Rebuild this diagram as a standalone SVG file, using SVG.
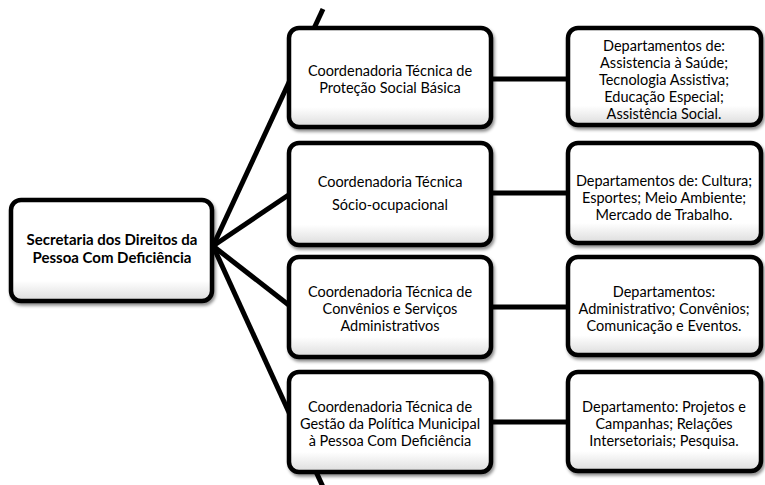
<svg xmlns="http://www.w3.org/2000/svg" width="765" height="485" viewBox="0 0 765 485">
<defs>
<linearGradient id="g" x1="0" y1="0" x2="0" y2="1">
<stop offset="0" stop-color="#ffffff"/>
<stop offset="0.8" stop-color="#ffffff"/>
<stop offset="1" stop-color="#dcdcdc"/>
</linearGradient>
<filter id="sh" x="-10%" y="-10%" width="125%" height="130%">
<feDropShadow dx="1.5" dy="2.5" stdDeviation="1.5" flood-color="#000" flood-opacity="0.45"/>
</filter>
</defs>
<style>
.box{fill:url(#g);stroke:#000;stroke-width:4.5;filter:url(#sh)}
.t{font-family:Lato,"Noto Sans",sans-serif;font-size:14.5px;fill:#000;text-anchor:middle}
.b{font-weight:bold;font-size:15px}
.c{stroke:#000;stroke-width:5;fill:none}
</style>
<g id="connectors">
<line class="c" x1="213" y1="246" x2="323" y2="9"/>
<line class="c" x1="213" y1="246" x2="290" y2="194"/>
<line class="c" x1="213" y1="246" x2="290" y2="306"/>
<line class="c" x1="213" y1="246" x2="323" y2="487"/>
<line class="c" x1="490" y1="79" x2="569" y2="79"/>
<line class="c" x1="490" y1="193" x2="569" y2="193"/>
<line class="c" x1="490" y1="307" x2="569" y2="307"/>
<line class="c" x1="490" y1="422" x2="569" y2="422"/>
</g>
<g id="root">
<rect class="box" x="11" y="200" width="201" height="101" rx="10"/>
<text class="t b" x="112" y="245">Secretaria dos Direitos da</text>
<text class="t b" x="112" y="263">Pessoa Com Deficiência</text>
</g>
<g id="c1">
<rect class="box" x="289" y="28" width="202" height="99" rx="10"/>
<text class="t" x="390" y="76">Coordenadoria Técnica de</text>
<text class="t" x="390" y="93">Proteção Social Básica</text>
</g>
<g id="c2">
<rect class="box" x="289" y="143" width="202" height="102" rx="10"/>
<text class="t" x="390" y="187">Coordenadoria Técnica</text>
<text class="t" x="390" y="210">Sócio-ocupacional</text>
</g>
<g id="c3">
<rect class="box" x="289" y="257" width="202" height="100" rx="10"/>
<text class="t" x="390" y="297">Coordenadoria Técnica de</text>
<text class="t" x="390" y="314">Convênios e Serviços</text>
<text class="t" x="390" y="331">Administrativos</text>
</g>
<g id="c4">
<rect class="box" x="289" y="372" width="202" height="100" rx="10"/>
<text class="t" x="390" y="412">Coordenadoria Técnica de</text>
<text class="t" x="390" y="429">Gestão da Política Municipal</text>
<text class="t" x="390" y="446">à Pessoa Com Deficiência</text>
</g>
<g id="d1">
<rect class="box" x="568" y="28" width="193" height="97" rx="10"/>
<text class="t" x="664" y="51">Departamentos de:</text>
<text class="t" x="664" y="68">Assistencia à Saúde;</text>
<text class="t" x="664" y="85">Tecnologia Assistiva;</text>
<text class="t" x="664" y="102">Educação Especial;</text>
<text class="t" x="664" y="119">Assistência Social.</text>
</g>
<g id="d2">
<rect class="box" x="568" y="143" width="193" height="100" rx="10"/>
<text class="t" x="664" y="186">Departamentos de: Cultura;</text>
<text class="t" x="664" y="203">Esportes; Meio Ambiente;</text>
<text class="t" x="664" y="220">Mercado de Trabalho.</text>
</g>
<g id="d3">
<rect class="box" x="568" y="257" width="193" height="98" rx="10"/>
<text class="t" x="664" y="297">Departamentos:</text>
<text class="t" x="664" y="314">Administrativo; Convênios;</text>
<text class="t" x="664" y="331">Comunicação e Eventos.</text>
</g>
<g id="d4">
<rect class="box" x="568" y="372" width="193" height="99" rx="10"/>
<text class="t" x="664" y="412">Departamento: Projetos e</text>
<text class="t" x="664" y="429">Campanhas; Relações</text>
<text class="t" x="664" y="446">Intersetoriais; Pesquisa.</text>
</g>
</svg>
